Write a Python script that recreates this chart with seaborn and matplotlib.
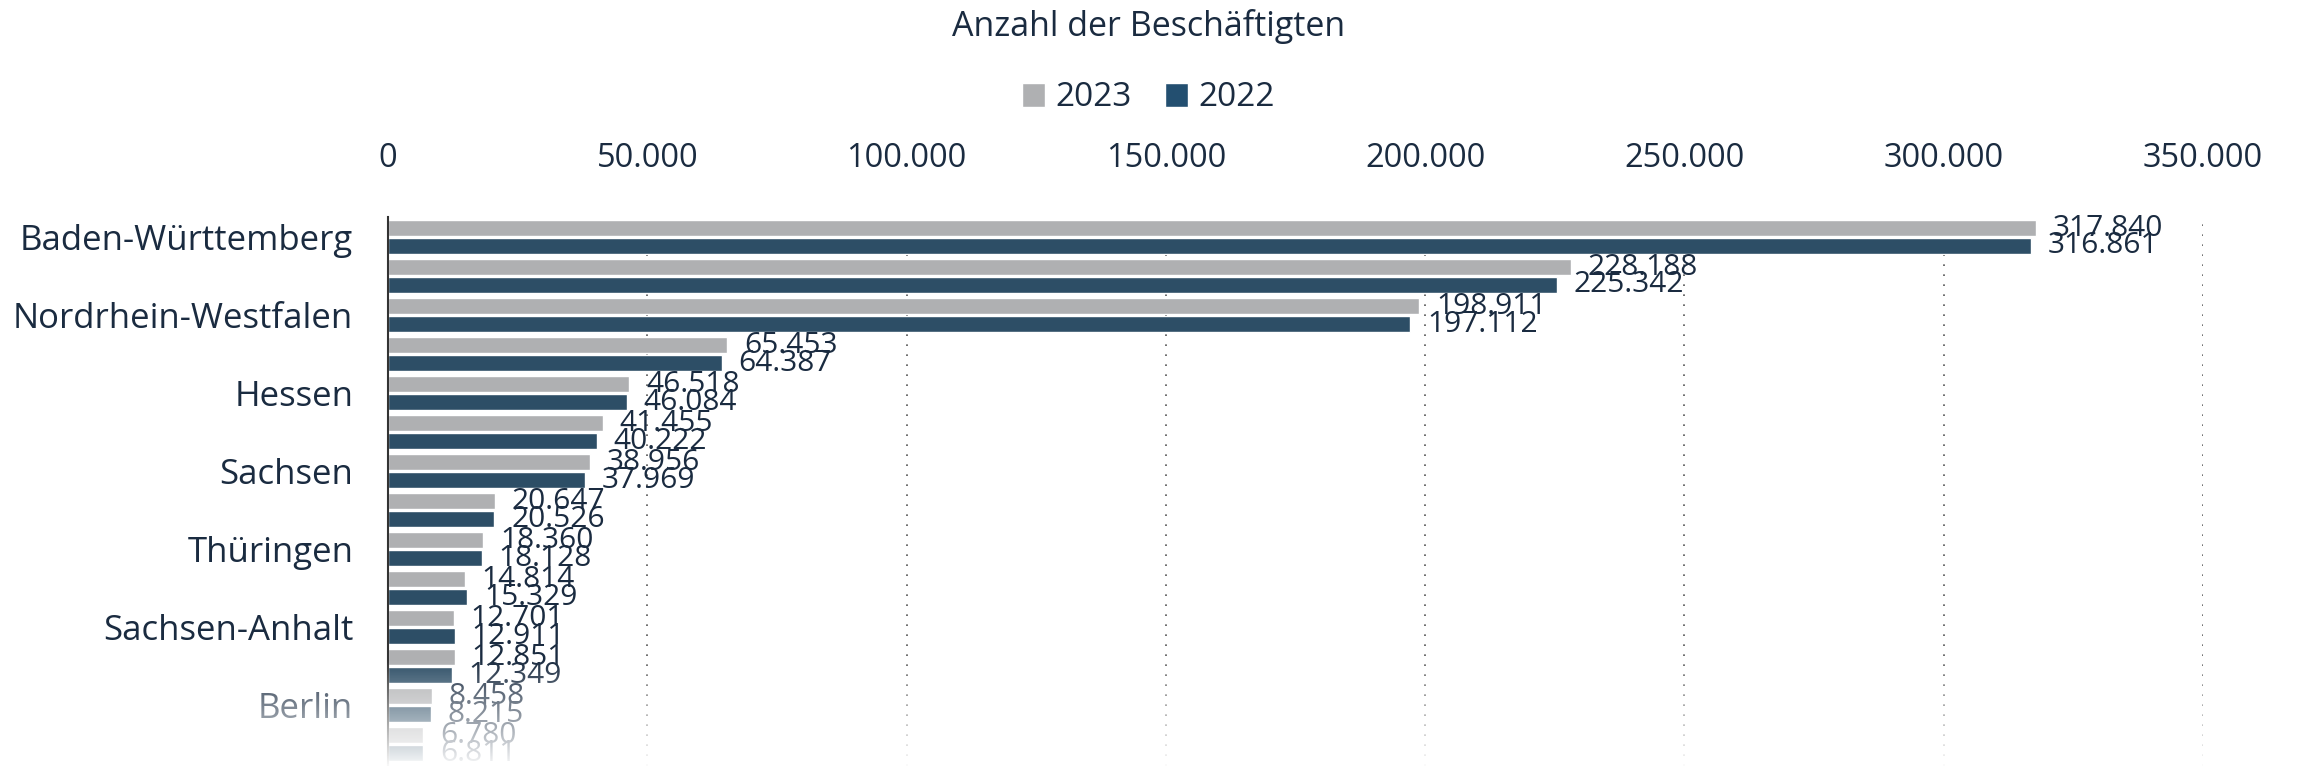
import numpy as np
import pandas as pd
import seaborn as sns
import matplotlib.pyplot as plt
from matplotlib.patches import Patch

# Data (Anzahl der Beschäftigten)
states = ["Baden-Württemberg", "Bayern", "Nordrhein-Westfalen", "Niedersachsen",
          "Hessen", "Rheinland-Pfalz", "Sachsen", "Brandenburg", "Thüringen",
          "Schleswig-Holstein", "Sachsen-Anhalt", "Mecklenburg-Vorpommern",
          "Berlin", "Saarland"]
shown_labels = ["Baden-Württemberg", "", "Nordrhein-Westfalen", "", "Hessen", "",
                "Sachsen", "", "Thüringen", "", "Sachsen-Anhalt", "", "Berlin", ""]
values_2023 = [317840, 228188, 198911, 65453, 46518, 41455, 38956, 20647,
               18360, 14814, 12701, 12851, 8458, 6780]
values_2022 = [316861, 225342, 197112, 64387, 46084, 40222, 37969, 20526,
               18128, 15329, 12911, 12349, 8215, 6811]
years = ["2023", "2022"]
x_ticks = [0, 50000, 100000, 150000, 200000, 250000, 300000, 350000]

GREY = "#afb0b2"
BLUE = "#234f70"
TEXT = "#1a2b40"

df = pd.DataFrame({
    "Land": states * 2,
    "Jahr": [years[0]] * len(states) + [years[1]] * len(states),
    "Wert": values_2023 + values_2022,
})


def fmt(v):
    return f"{int(v):,}".replace(",", ".")


sns.set_style("white")
plt.rcParams["font.family"] = ["Open Sans", "DejaVu Sans"]

W, H = 2297, 766
fig = plt.figure(figsize=(W / 100, H / 100), dpi=100)
ax = fig.add_axes([388 / W, 0, (2203 - 388) / W, 1 - 217 / H])

sns.barplot(data=df, x="Wert", y="Land", hue="Jahr", hue_order=years,
            palette=[GREY, BLUE], orient="h", width=0.92, gap=0.12,
            ax=ax, legend=False)

for cont in ax.containers:
    ax.bar_label(cont, labels=[fmt(v) for v in cont.datavalues],
                 padding=12, fontsize=21.5, color=TEXT)

ax.set_xlim(0, 350000)
ax.set_ylim(13.56, -0.513)
ax.set_xlabel("")
ax.set_ylabel("")

ax.xaxis.tick_top()
ax.set_xticks(x_ticks)
ax.set_xticklabels([fmt(t) for t in x_ticks])
ax.tick_params(axis="x", length=0, pad=30, labelsize=23.5, labelcolor=TEXT)
ax.set_yticks(range(len(states)))
ax.set_yticklabels(shown_labels)
ax.tick_params(axis="y", length=0, pad=25, labelsize=25, labelcolor=TEXT)

for t in x_ticks[1:]:
    ax.axvline(t, color="#555555", linestyle=(0, (1, 5)), linewidth=1.2, zorder=0)

for side in ["top", "right", "bottom"]:
    ax.spines[side].set_visible(False)
ax.spines["left"].set_color("#333333")
ax.spines["left"].set_linewidth(1.5)
ax.spines["left"].set_zorder(5)

fig.text(0.5, 1 - 26 / H, "Anzahl der Beschäftigten", ha="center", va="center",
         fontsize=24.5, color=TEXT)

handles = [Patch(facecolor=GREY, label=years[0]), Patch(facecolor=BLUE, label=years[1])]
fig.legend(handles=handles, loc="center", bbox_to_anchor=(0.5, 1 - 98 / H), ncol=2,
           frameon=False, fontsize=24, handlelength=0.7, handleheight=0.7,
           handletextpad=0.3, columnspacing=1.0, labelcolor=TEXT)

# white fade towards the bottom edge
fade = fig.add_axes([0, 0, 1, 1], zorder=10)
fade.axis("off")
rows = np.linspace(1, 0, H)
start = 1 - 660 / H
alpha = np.clip((start - rows) / start, 0, 1) * 0.97
grad = np.ones((H, 1, 4))
grad[:, 0, 3] = alpha
fade.imshow(grad, aspect="auto", extent=[0, 1, 0, 1], origin="upper")
fade.set_xlim(0, 1)
fade.set_ylim(0, 1)

fig.savefig("out.png", dpi=100, facecolor="white")
